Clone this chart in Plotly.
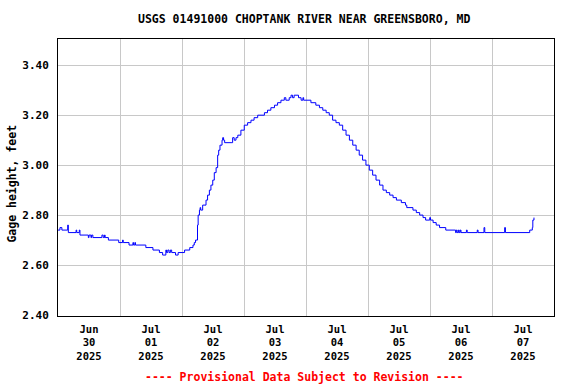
import pandas as pd
import plotly.graph_objects as go

# ---- data ----
start_time = "2025-06-30 00:00"
hours = [0, 0.75, 1.5, 3.75, 4.0, 7.0, 7.25, 8.25, 8.5, 11.75, 12.0, 12.75, 13.0, 13.5,
         17.0, 17.5, 18.0, 18.25, 19.5, 23.5, 25.0, 25.25, 27.5, 29.0, 29.25, 29.75, 30.0,
         34.0, 36.75, 39.25, 40.5, 41.75, 42.0, 42.5, 43.0, 43.5, 44.0, 45.5, 46.5, 49.0,
         51.0, 52.25, 52.75, 53.25, 54.0, 54.25, 54.75, 55.0, 55.25, 56.0, 57.3, 57.9, 58.6,
         59.2, 59.9, 60.5, 61.2, 61.8, 62.2, 62.7, 63.5, 63.75, 64.1, 64.5, 67.0, 67.6, 68.2,
         68.9, 69.6, 70.8, 72.1, 73.4, 74.7, 75.9, 77.3, 79.9, 81.1, 82.4, 83.8, 85.0, 86.3,
         87.6, 88.2, 89.5, 90.2, 90.8, 91.4, 93.1, 94.1, 94.8, 95.1, 97.9, 99.8, 101.2,
         102.5, 103.8, 105.0, 106.3, 107.6, 108.9, 110.2, 111.5, 112.8, 114.1, 115.4, 116.6,
         117.9, 119.2, 120.5, 121.8, 123.1, 124.5, 125.8, 127.1, 128.4, 129.7, 131.0, 132.9,
         134.5, 135.0, 137.4, 138.7, 140.0, 141.3, 142.3, 143.9, 144.2, 145.2, 146.4, 147.7,
         150.1, 153.9, 154.2, 154.5, 155.0, 155.3, 155.7, 156.0, 158.1, 158.4, 162.3, 162.6,
         164.9, 165.2, 172.9, 173.2, 182.6, 183.6, 183.8, 184.25]
gage_ft = [2.74, 2.75, 2.74, 2.76, 2.73, 2.74, 2.73, 2.74, 2.72, 2.71, 2.72, 2.71, 2.72, 2.71,
           2.72, 2.71, 2.72, 2.71, 2.70, 2.69, 2.70, 2.69, 2.68, 2.69, 2.68, 2.69, 2.68,
           2.67, 2.66, 2.65, 2.64, 2.66, 2.65, 2.66, 2.65, 2.66, 2.65, 2.64, 2.65, 2.66,
           2.67, 2.68, 2.69, 2.70, 2.76, 2.80, 2.82, 2.83, 2.82, 2.84, 2.86, 2.88, 2.90,
           2.92, 2.94, 2.97, 2.99, 3.04, 3.06, 3.08, 3.10, 3.11, 3.10, 3.09, 3.09, 3.11, 3.10,
           3.11, 3.12, 3.14, 3.16, 3.17, 3.18, 3.19, 3.20, 3.21, 3.22, 3.23, 3.24, 3.25, 3.26,
           3.27, 3.26, 3.27, 3.28, 3.27, 3.28, 3.27, 3.26, 3.27, 3.26, 3.25, 3.24, 3.23,
           3.22, 3.21, 3.20, 3.18, 3.17, 3.16, 3.14, 3.12, 3.10, 3.08, 3.06, 3.04,
           3.02, 3.00, 2.98, 2.96, 2.94, 2.92, 2.90, 2.89, 2.88, 2.87, 2.86, 2.85,
           2.84, 2.83, 2.82, 2.81, 2.80, 2.79, 2.78, 2.79, 2.78, 2.77, 2.76, 2.75,
           2.74, 2.73, 2.74, 2.73, 2.74, 2.73, 2.74, 2.73, 2.74, 2.73, 2.74, 2.73,
           2.75, 2.73, 2.75, 2.73, 2.74, 2.75, 2.78, 2.79]

y_tick_vals = [2.40, 2.60, 2.80, 3.00, 3.20, 3.40]
y_tick_text = ["2.40", "2.60", "2.80", "3.00", "3.20", "3.40"]
title_text = "USGS 01491000 CHOPTANK RIVER NEAR GREENSBORO, MD"
y_title = "Gage height, feet"
footer_text = "---- Provisional Data Subject to Revision ----"

times = pd.Timestamp(start_time) + pd.to_timedelta(hours, unit="h")

FONT = "DejaVu Sans Mono"

fig = go.Figure()
fig.add_trace(go.Scatter(
    x=times, y=gage_ft, mode="lines",
    line=dict(color="#0000ff", width=1, shape="hv"),
    hoverinfo="x+y", showlegend=False,
))

fig.update_layout(
    width=576, height=384,
    margin=dict(l=58, r=22, t=39, b=68),
    paper_bgcolor="white", plot_bgcolor="white",
    font=dict(family=FONT, size=11, color="black", weight="bold"),
    showlegend=False,
)

fig.update_xaxes(
    type="date",
    range=["2025-06-30 00:00", "2025-07-08 00:00"],
    tick0="2025-06-30", dtick=86400000,
    ticklabelmode="period",
    tickformat="%b<br>%d<br>%Y",
    ticks="", showgrid=True, gridcolor="#c8c8c8", gridwidth=1,
    showline=True, linecolor="black", linewidth=1, mirror=True,
    zeroline=False, ticklabelstandoff=3,
    tickfont=dict(family=FONT, size=10.5, color="black", weight="bold"),
)
fig.update_yaxes(
    range=[2.396, 3.505],
    tickmode="array", tickvals=y_tick_vals, ticktext=y_tick_text,
    ticks="outside", ticklen=6, tickcolor="white",
    showgrid=True, gridcolor="#c8c8c8", gridwidth=1,
    showline=True, linecolor="black", linewidth=1, mirror=True,
    zeroline=False, tickfont=dict(family=FONT, size=11, color="black", weight="bold"),
)

fig.add_annotation(text=title_text, xref="paper", yref="paper", x=0.4965, y=1,
                   yshift=20, xanchor="center", yanchor="middle", showarrow=False,
                   font=dict(family=FONT, size=11.5, color="black", weight="bold"))
fig.add_annotation(text=y_title, xref="paper", yref="paper", x=0, xshift=-46,
                   y=0.478, textangle=-90, xanchor="center", yanchor="middle",
                   showarrow=False,
                   font=dict(family=FONT, size=11.5, color="black", weight="bold"))
fig.add_annotation(text=footer_text, xref="paper", yref="paper", x=0.4965, y=0,
                   yshift=-61, xanchor="center", yanchor="middle", showarrow=False,
                   font=dict(family=FONT, size=11.5, color="#ff0000", weight="bold"))

fig.write_html("out.html", config={"displayModeBar": False},
               post_script="document.body.style.margin='0';")
